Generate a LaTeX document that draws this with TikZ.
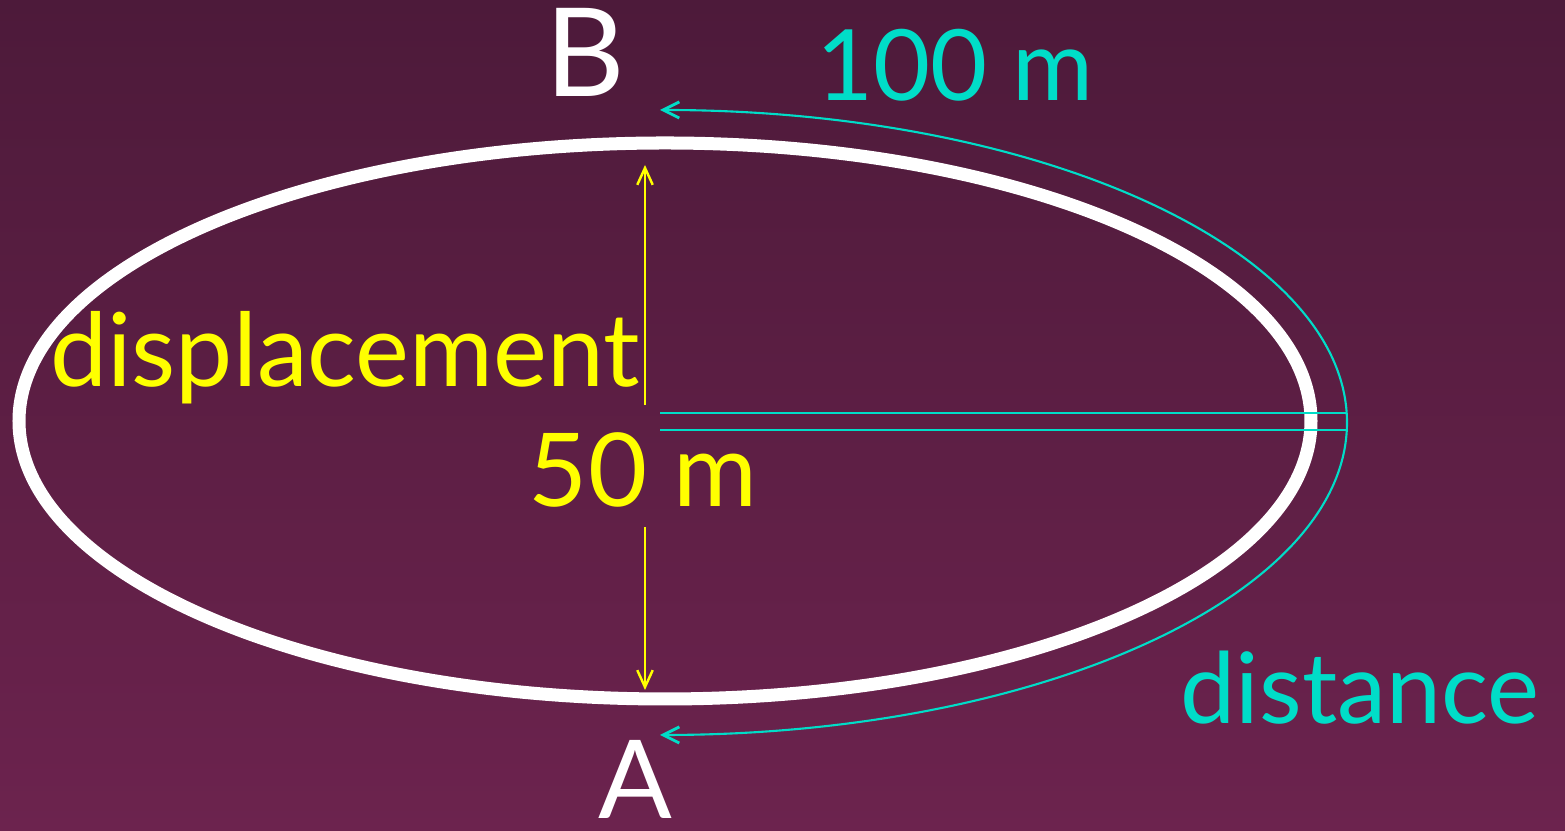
\documentclass[tikz,border=0pt]{standalone}
\usepackage{fontspec}
\setmainfont{Lato}
\usetikzlibrary{arrows.meta}
\definecolor{bgTop}{HTML}{4D1A3A}
\definecolor{bgBottom}{HTML}{6C234E}
\definecolor{trackCyan}{HTML}{00DDC8}
\definecolor{vecYellow}{HTML}{FFFF00}
\tikzset{
    track/.style={
        draw=white,
        line width=3.7pt
    },
    path/.style={
        draw=trackCyan,
        line width=0.6pt
    },
    pathtip/.style={
        path,
        {Straight Barb[length=4.6pt,width=4.6pt,line width=0.8pt]}-{Straight Barb[length=4.6pt,width=4.6pt,line width=0.8pt]}
    },
    vec/.style={
        draw=vecYellow,
        line width=0.6pt,
        -{Straight Barb[length=4.8pt,width=4.4pt,line width=0.7pt]}
    },
    point/.style={
        text=white,
        font=\fontsize{35}{38}\selectfont,
        inner sep=0pt
    },
    cyanlabel/.style={
        text=trackCyan,
        font=\fontsize{28}{32}\selectfont,
        inner sep=0pt
    },
    yellowlabel/.style={
        text=vecYellow,
        font=\fontsize{29}{32}\selectfont,
        inner sep=0pt
    }
}

\begin{document}
\begin{tikzpicture}[x=0.01cm,y=0.01cm]
    % background
    \shade[top color=bgTop, bottom color=bgBottom] (0,0) rectangle (1565,831);
    \useasboundingbox (0,0) rectangle (1565,831);

    % the track
    \draw[track] (665,410) ellipse [x radius=646, y radius=278];

    % labels
    \node[point] (B) at (585,779) {B};
    \node[point, font=\fontsize{31}{34}\selectfont] (A) at (635,52) {A};
    \node[cyanlabel] (hundred) at (955,766) {100 m};
    \node[cyanlabel] (dist) at (1360,143) {distance};
    \node[yellowlabel] (disp) at (345,473) {displacement};
    \node[yellowlabel] (fifty) at (643,361) {50 m};

    % distance along the track
    \coordinate (top) at (660,721);
    \coordinate (bottom) at (660,96);
    \coordinate (midhi) at (660,418);
    \coordinate (midlo) at (660,401);
    \coordinate (edgehi) at (1347,418);
    \coordinate (edgelo) at (1347,401);
    \draw[pathtip] (top) arc[start angle=90, end angle=-90, x radius=687, y radius=312.5];
    \draw[path] (midhi) -- (edgehi);
    \draw[path] (midlo) -- (edgelo);

    % displacement arrows
    \coordinate (upfrom) at (645,426);
    \coordinate (upto) at (645,666);
    \coordinate (downfrom) at (645,304);
    \coordinate (downto) at (645,141);
    \draw[vec] (upfrom) -- (upto);
    \draw[vec] (downfrom) -- (downto);
\end{tikzpicture}
\end{document}
